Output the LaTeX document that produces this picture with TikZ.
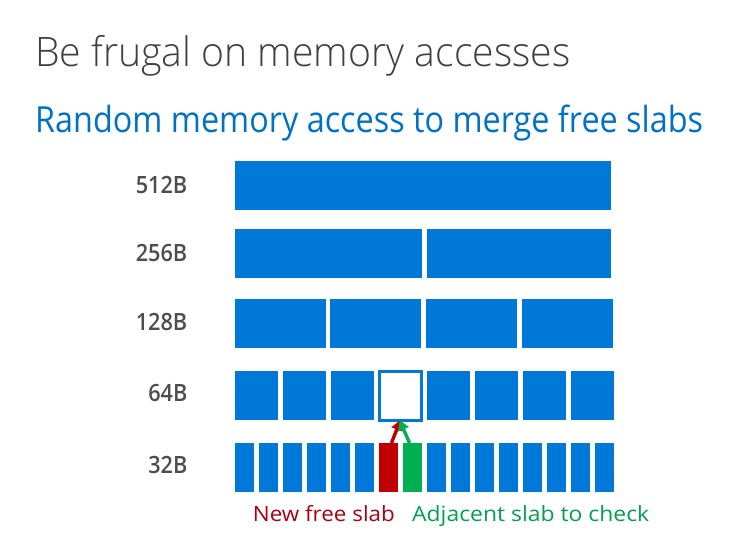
\documentclass[tikz,border=0pt]{standalone}
\usepackage{fontspec}
\usepackage{graphicx}
\usetikzlibrary{arrows.meta}
\setmainfont{Open Sans}
\IfFontExistsTF{Open Sans Light}{\newfontfamily\lightfont{Open Sans Light}}{\newfontfamily\lightfont{Open Sans}}
\IfFontExistsTF{Open Sans Semibold}{\newfontfamily\semifont{Open Sans Semibold}}{\newfontfamily\semifont{Open Sans}[FakeBold=1.5]}
\definecolor{titlegray}{RGB}{64,64,64}
\definecolor{subblue}{RGB}{0,114,198}
\definecolor{slabblue}{RGB}{0,120,215}
\definecolor{labelgray}{RGB}{77,77,77}
\definecolor{slabred}{RGB}{192,0,0}
\definecolor{textred}{RGB}{170,0,20}
\definecolor{slabgreen}{RGB}{0,176,80}
\definecolor{textgreen}{RGB}{0,160,80}
\newlength\fitlen
\newcommand\fitw[2]{\settowidth{\fitlen}{#2}\pgfmathsetmacro\fitsc{#1/\fitlen}\scalebox{\fitsc}[1]{#2}}
\newcommand\sizetext[2]{\fitw{#1}{\semifont\fontsize{23.8}{26}\selectfont #2}}
\tikzset{
  slab/.style={fill=slabblue, inner sep=0pt, outer sep=0pt, anchor=north west, minimum height=49pt},
  sizelabel/.style={anchor=east, inner sep=0pt, text=labelgray},
  arr/.style={line width=3.4pt, -{Triangle[length=10pt,width=11pt]}, shorten >=-1pt}
}
\begin{document}
\begin{tikzpicture}[x=1pt,y=-1pt]
\useasboundingbox (0,0) rectangle (734,551);
% titles
\node[anchor=base west, inner sep=0pt, text=titlegray] (title) at (35,66.7)
  {\fitw{535pt}{\lightfont\fontsize{40.6}{44}\selectfont Be frugal on memory accesses}};
\node[anchor=base west, inner sep=0pt, text=subblue] (subtitle) at (35,132.3)
  {\fitw{668pt}{\fontsize{36}{40}\selectfont Random memory access to merge free slabs}};
% size labels
\node[sizelabel] (l512) at (187.5,184.5) {\sizetext{51.5pt}{512B}};
\node[sizelabel] (l256) at (187.5,252.5) {\sizetext{51.5pt}{256B}};
\node[sizelabel] (l128) at (187.5,321.5) {\sizetext{51.5pt}{128B}};
\node[sizelabel] (l64) at (187.5,393) {\sizetext{39pt}{64B}};
\node[sizelabel] (l32) at (187.5,464.7) {\sizetext{39pt}{32B}};
% 512B row
\node[slab, minimum width=376pt] (s512) at (235,161) {};
% 256B row
\node[slab, minimum width=187pt] (s256a) at (235,229) {};
\node[slab, minimum width=184pt] (s256b) at (427,229) {};
% 128B row
\node[slab, minimum width=91pt] (s128a) at (235,299) {};
\node[slab, minimum width=91pt] (s128b) at (330,299) {};
\node[slab, minimum width=91pt] (s128c) at (426,299) {};
\node[slab, minimum width=91pt] (s128d) at (522,299) {};
% 64B row
\foreach \i in {0,1,2,4,5,6,7}{
  \node[slab, minimum width=43pt] (s64\i) at ({235+48*\i},371) {};
}
\node[slab, minimum width=42pt, fill=white, draw=slabblue, line width=3pt] (white) at (379,371) {};
% 32B row
\foreach \i in {0,...,5,8,9,10,11,12,13,14,15}{
  \node[slab, minimum width=19pt] (s32\i) at ({235+24*\i},443) {};
}
\node[slab, minimum width=19pt, fill=slabred] (newslab) at (379,443) {};
\node[slab, minimum width=19pt, fill=slabgreen] (adjslab) at (403,443) {};
% arrows
\draw[arr, slabred] ([xshift=3pt]newslab.north) -- ([yshift=-1pt]white.south);
\draw[arr, slabgreen] ([xshift=-3pt]adjslab.north) -- ([yshift=-1pt]white.south);
% bottom labels
\node[anchor=base west, inner sep=0pt, text=textred] (newlbl) at (252.7,521.7)
  {\fitw{142pt}{\fontsize{21}{24}\selectfont New free slab}};
\node[anchor=base west, inner sep=0pt, text=textgreen] (adjlbl) at (412,521.7)
  {\fitw{237pt}{\fontsize{21}{24}\selectfont Adjacent slab to check}};
\end{tikzpicture}
\end{document}
